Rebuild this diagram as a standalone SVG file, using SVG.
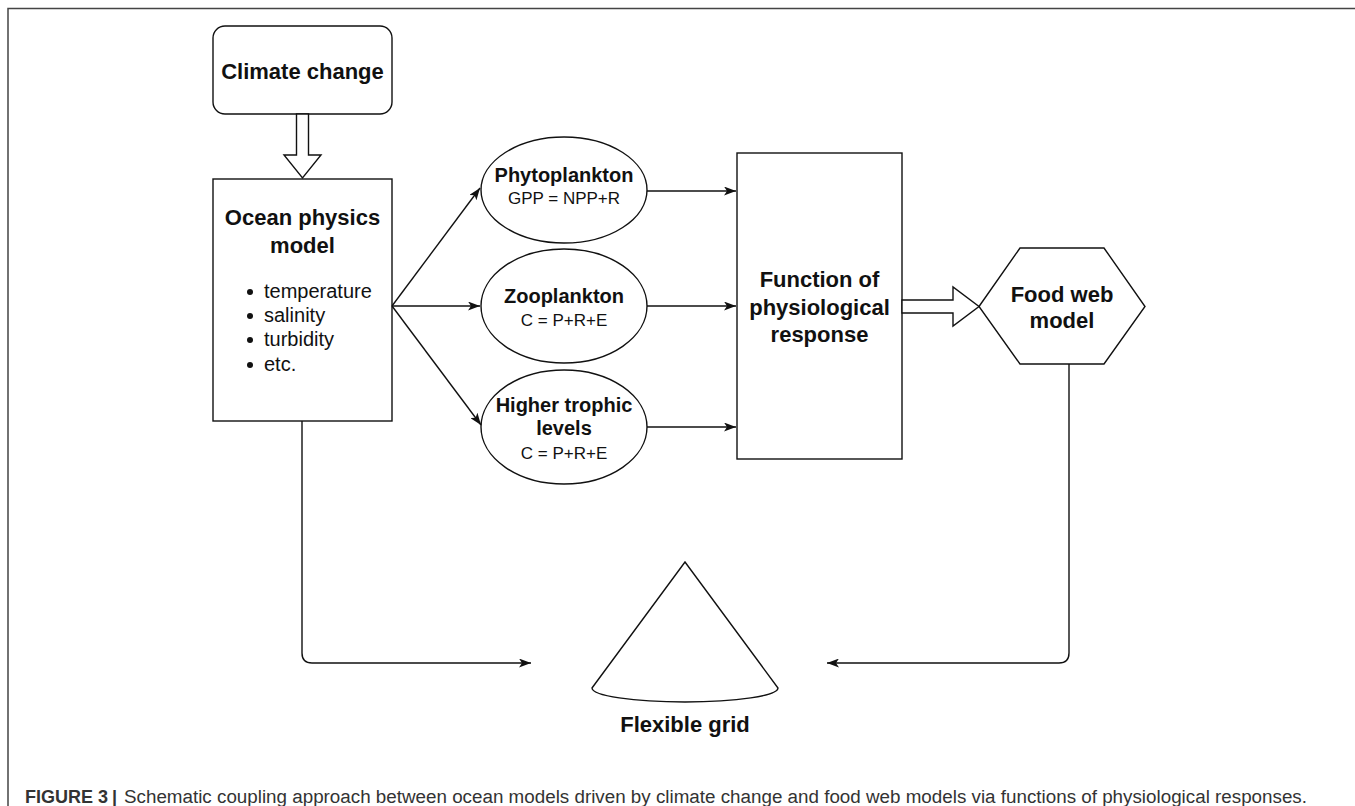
<svg xmlns="http://www.w3.org/2000/svg" width="1355" height="806" viewBox="0 0 1355 806">
<defs>
<style>
.shape{fill:#fff;stroke:#111;stroke-width:1.4}
.conn{fill:none;stroke:#111;stroke-width:1.4}
.b{font-family:"Liberation Sans",Arial,sans-serif;font-weight:bold;font-size:22px;fill:#111;text-anchor:middle}
.b20{font-family:"Liberation Sans",Arial,sans-serif;font-weight:bold;font-size:20px;fill:#111;text-anchor:middle}
.r{font-family:"Liberation Sans",Arial,sans-serif;font-size:17px;fill:#111;text-anchor:middle}
.li{font-family:"Liberation Sans",Arial,sans-serif;font-size:20px;fill:#111}
.cap{font-family:"Liberation Sans",Arial,sans-serif;font-size:18px;fill:#333}
</style>
<marker id="ah" viewBox="0 0 12 9" refX="12" refY="4.5" markerWidth="12" markerHeight="9" markerUnits="userSpaceOnUse" orient="auto">
<path d="M0,0 L12,4.5 L0,9 L3,4.5 z" fill="#111"/>
</marker>
</defs>
<rect width="1355" height="806" fill="#fff"/>
<path d="M8,806 V8.5 H1355" fill="none" stroke="#444" stroke-width="1.5"/>

<g id="climate-change">
<rect class="shape" x="213" y="26" width="179" height="88" rx="12"/>
<text class="b" x="302.5" y="79">Climate change</text>
</g>

<g id="ocean-physics">
<rect class="shape" x="213" y="179" width="179" height="242"/>
<text class="b" x="302.5" y="225">Ocean physics</text>
<text class="b" x="302.5" y="253">model</text>
<circle cx="250" cy="292" r="3" fill="#111"/>
<circle cx="250" cy="316" r="3" fill="#111"/>
<circle cx="250" cy="340" r="3" fill="#111"/>
<circle cx="250" cy="365" r="3" fill="#111"/>
<text class="li" x="264" y="298">temperature</text>
<text class="li" x="264" y="322">salinity</text>
<text class="li" x="264" y="346">turbidity</text>
<text class="li" x="264" y="371">etc.</text>
</g>

<g id="phytoplankton">
<ellipse class="shape" cx="564" cy="190" rx="83" ry="53"/>
<text class="b20" x="564" y="182">Phytoplankton</text>
<text class="r" x="564" y="204">GPP = NPP+R</text>
</g>

<g id="zooplankton">
<ellipse class="shape" cx="564" cy="306" rx="83" ry="57"/>
<text class="b20" x="564" y="303">Zooplankton</text>
<text class="r" x="564" y="326">C = P+R+E</text>
</g>

<g id="higher-trophic">
<ellipse class="shape" cx="564" cy="427" rx="83" ry="57"/>
<text class="b20" x="564" y="412">Higher trophic</text>
<text class="b20" x="564" y="435">levels</text>
<text class="r" x="564" y="459">C = P+R+E</text>
</g>

<g id="function-physiological">
<rect class="shape" x="737" y="153" width="165" height="306"/>
<text class="b" x="819.5" y="287">Function of</text>
<text class="b" x="819.5" y="315">physiological</text>
<text class="b" x="819.5" y="342">response</text>
</g>

<g id="food-web">
<polygon class="shape" points="979,306.5 1020,248 1104,248 1145,306.5 1104,364 1020,364"/>
<text class="b" x="1062" y="302">Food web</text>
<text class="b" x="1062" y="328">model</text>
</g>

<g id="flexible-grid">
<path class="shape" d="M592,688 L685,562 L778,688 A93,14 0 0 1 592,688 Z"/>
<text class="b" x="685" y="732">Flexible grid</text>
</g>

<g id="connectors">
<polygon class="shape" points="296.5,114 308.5,114 308.5,155 321,155 302.5,178 284,155 296.5,155"/>
<polygon class="shape" points="902,300 953,300 953,287 979,306.5 953,326 953,313 902,313"/>
<line class="conn" x1="392" y1="306" x2="480" y2="188" marker-end="url(#ah)"/>
<line class="conn" x1="392" y1="306" x2="480" y2="306" marker-end="url(#ah)"/>
<line class="conn" x1="392" y1="306" x2="481" y2="425" marker-end="url(#ah)"/>
<line class="conn" x1="647" y1="191" x2="736" y2="191" marker-end="url(#ah)"/>
<line class="conn" x1="647" y1="306" x2="736" y2="306" marker-end="url(#ah)"/>
<line class="conn" x1="647" y1="427" x2="736" y2="427" marker-end="url(#ah)"/>
<path class="conn" d="M302,421 V653 Q302,663 312,663 H531" marker-end="url(#ah)"/>
<path class="conn" d="M1069,364 V653 Q1069,663 1059,663 H827" marker-end="url(#ah)"/>
</g>

<g id="caption">
<text class="cap" x="25" y="803" font-weight="bold" fill="#111" textLength="83" lengthAdjust="spacingAndGlyphs">FIGURE 3</text>
<text class="cap" x="112" y="803" font-weight="bold">|</text>
<text class="cap" x="124" y="803" textLength="1183" lengthAdjust="spacingAndGlyphs">Schematic coupling approach between ocean models driven by climate change and food web models via functions of physiological responses.</text>
</g>
</svg>
